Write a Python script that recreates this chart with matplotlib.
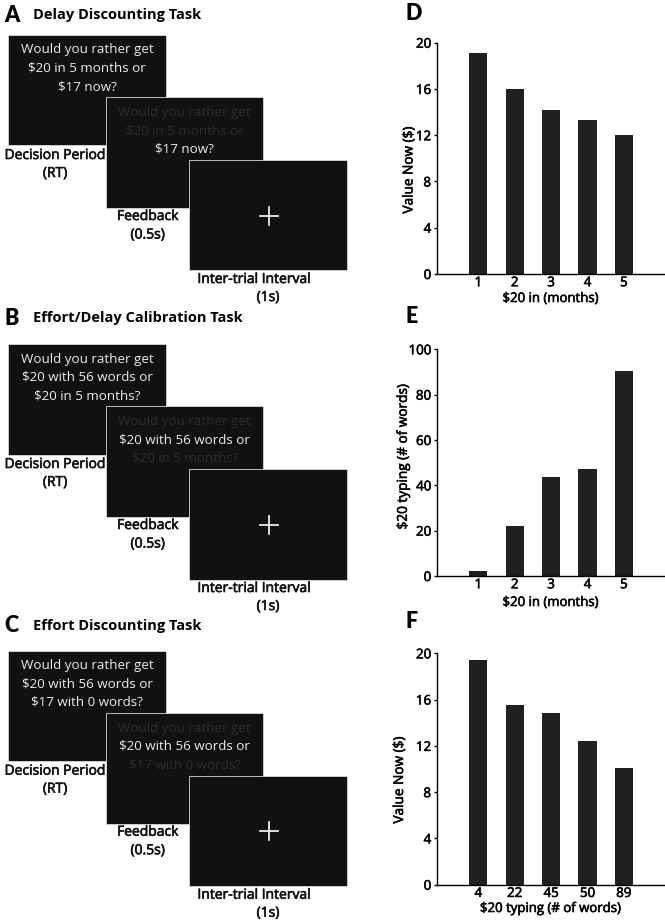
import matplotlib
matplotlib.use("Agg")
import matplotlib.pyplot as plt
from matplotlib.patches import Rectangle
import matplotlib.patheffects as pe

plt.rcParams['font.family'] = ['Open Sans', 'DejaVu Sans']

# ---------------- data ----------------
months = ["1", "2", "3", "4", "5"]
words = ["4", "22", "45", "50", "89"]
value_now_delay = [19.1, 16.0, 14.2, 13.3, 12.0]
typing_equiv = [2.2, 22.2, 43.5, 47.2, 90.4]
value_now_effort = [19.45, 15.5, 14.85, 12.4, 10.1]

titles = ["Delay Discounting Task", "Effort/Delay Calibration Task", "Effort Discounting Task"]
letters_left = ["A", "B", "C"]
q_lines = [
    ["Would you rather get", "$20 in 5 months or", "$17 now?"],
    ["Would you rather get", "$20 with 56 words or", "$20 in 5 months?"],
    ["Would you rather get", "$20 with 56 words or", "$17 with 0 words?"],
]
fb_highlight = [2, 1, 1]  # which line stays bright in feedback screen

W, H = 665, 922
fig = plt.figure(figsize=(W / 100, H / 100), dpi=100)

THICK = [pe.withStroke(linewidth=0.45, foreground="#111111")]

# overlay axes in pixel coords for schematic
ov = fig.add_axes([0, 0, 1, 1])
ov.set_xlim(0, W)
ov.set_ylim(H, 0)
ov.axis("off")

SCREEN = "#111111"
BRIGHT = "#ececec"
DIM = "#2c2c2c"
sw, sh = 157.4, 110.5
CAP = dict(fontsize=10, ha="center", va="center", color="#111111", path_effects=THICK)

panel_tops = [35.0, 344.0, 650.7]
title_y = [15.0, 318.3, 625.7]

for k in range(3):
    T = panel_tops[k]
    ov.text(4, title_y[k], letters_left[k], fontsize=15.5, fontweight="heavy",
            family=["Lato", "DejaVu Sans"], va="center", ha="left")
    ov.text(33, title_y[k], titles[k], fontsize=10.5, fontweight="bold",
            va="center", ha="left")
    x1, y1 = 8.3, T
    x2, y2 = 105.7, T + 62.3
    x3, y3 = 189.3, T + 125.0
    ov.add_patch(Rectangle((x1, y1), sw, sh, facecolor=SCREEN,
                           edgecolor="#d8d8d8", linewidth=0.6, zorder=2))
    for i, line in enumerate(q_lines[k]):
        ov.text(x1 + 79, y1 + 15 + 18.3 * i, line, color=BRIGHT,
                fontsize=9.6, ha="center", va="center", zorder=2.1)
    ov.add_patch(Rectangle((x2, y2), sw, sh, facecolor=SCREEN,
                           edgecolor="#d8d8d8", linewidth=0.6, zorder=2.2))
    for i, line in enumerate(q_lines[k]):
        c = BRIGHT if i == fb_highlight[k] else DIM
        ov.text(x2 + 79, y2 + 15 + 18.3 * i, line, color=c,
                fontsize=9.6, ha="center", va="center", zorder=2.3)
    ov.add_patch(Rectangle((x3, y3), sw, sh, facecolor=SCREEN,
                           edgecolor="#d8d8d8", linewidth=0.6, zorder=2.4))
    # fixation cross
    cx, cy = x3 + 80, y3 + 55.7
    ov.plot([cx - 9, cx + 9], [cy, cy], color="white", lw=1.2, zorder=3)
    ov.plot([cx, cx], [cy - 9, cy + 9], color="white", lw=1.2, zorder=3)
    # captions
    ov.text(55, T + 120.5, "Decision Period", **CAP)
    ov.text(55, T + 138.5, "(RT)", **CAP)
    ov.text(147.7, T + 181.5, "Feedback", **CAP)
    ov.text(147.7, T + 200, "(0.5s)", **CAP)
    ov.text(254, T + 244.5, "Inter-trial Interval", **CAP)
    ov.text(268, T + 262.5, "(1s)", **CAP)


def px_axes(left, right, top, bottom):
    return fig.add_axes([left / W, 1 - bottom / H, (right - left) / W, (bottom - top) / H])


BAR = "#202023"
AX_L = 436.7
bar_specs = [
    # letter, top, bottom, cats, vals, ymax, yticks, ylabel, xlabel, letter pos, ylabel (x px, y px), xlabel y px
    ("D", 42.7, 274.0, months, value_now_delay, 20, [0, 4, 8, 12, 16, 20],
     "Value Now ($)", "$20 in (months)", (414, 13.3), (409.0, 170.0), 298.5),
    ("E", 349.3, 576.0, months, typing_equiv, 100, [0, 20, 40, 60, 80, 100],
     "$20 typing (# of words)", "$20 in (months)", (412, 316.7), (403.3, 456.7), 602.5),
    ("F", 653.3, 884.7, words, value_now_effort, 20, [0, 4, 8, 12, 16, 20],
     "Value Now ($)", "$20 typing (# of words)", (412, 621.7), (399.5, 780.0), 908.5),
]

for (lab, top, bottom, cats, vals, ymax, yt, ylab, xlab, lpos, ylp, xly) in bar_specs:
    ax = px_axes(AX_L, W, top, bottom)
    xs = list(range(1, len(cats) + 1))
    ax.bar(xs, vals, width=0.5, color=BAR, edgecolor="none")
    ax.set_xlim(-0.143, 6.13)
    ax.set_ylim(0, ymax)
    ax.set_xticks(xs)
    ax.set_xticklabels(cats)
    ax.set_yticks(yt)
    for s in ["top", "right"]:
        ax.spines[s].set_visible(False)
    for s in ["left", "bottom"]:
        ax.spines[s].set_linewidth(1.0)
    ax.tick_params(axis="x", length=0, pad=1.6, labelsize=9.6)
    ax.tick_params(axis="y", length=2.5, width=1.0, direction="out", pad=1.5, labelsize=9.6)
    for t in ax.get_xticklabels() + ax.get_yticklabels():
        t.set_path_effects(THICK)
    ax.set_facecolor("none")
    ax.set_xlabel(xlab, fontsize=9.5, va="center", path_effects=THICK)
    ax.xaxis.set_label_coords((551 - AX_L) / (W - AX_L), (bottom - xly) / (bottom - top))
    ax.set_ylabel(ylab, fontsize=9.8, va="center", path_effects=THICK)
    ax.yaxis.set_label_coords((ylp[0] - AX_L) / (W - AX_L), (bottom - ylp[1]) / (bottom - top))
    fig.text(lpos[0] / W, 1 - lpos[1] / H, lab, fontsize=15.5, fontweight="heavy",
             family=["Lato", "DejaVu Sans"], ha="center", va="center")

fig.savefig("out.png", dpi=100, facecolor="white")
